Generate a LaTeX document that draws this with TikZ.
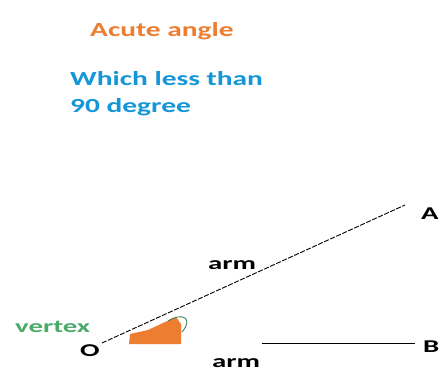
\documentclass[tikz,border=0pt]{standalone}
\usepackage{fontspec}
\setmainfont{Carlito}
\newfontfamily\widefont[FakeStretch=1.47]{Carlito}
\newfontfamily\widerfont[FakeStretch=1.6]{Carlito}
\usetikzlibrary{positioning}
\definecolor{angleorange}{RGB}{237,125,49}
\definecolor{noteblue}{RGB}{20,150,215}
\definecolor{vertexgreen}{RGB}{75,170,105}

\begin{document}
\begin{tikzpicture}[
    x=1pt, y=-1pt,
    txt/.style={font=\widefont\bfseries\fontsize{20}{27}\selectfont, inner sep=0pt, anchor=base west},
    lbl/.style={font=\widerfont\bfseries\fontsize{18}{20}\selectfont, inner sep=0pt, text=black, anchor=base west},
    armline/.style={draw=black, line width=0.9pt},
  ]
    \useasboundingbox (0,0) rectangle (441,372);
    \fill[white] (0,0) rectangle (441,372);

    \node[txt, text=angleorange] (title) at (90,36) {Acute angle};
    \node[txt, text=noteblue, align=left, anchor=north west] (note) at (70,71)
      {Which less than\\90 degree};

    \coordinate (O) at (102,343);
    \coordinate (A) at (405,205);
    \coordinate (armstart) at (262,343);
    \coordinate (B) at (415,343);

    \fill[angleorange] (129,344) -- (130,334) -- (148,330) -- (163,323)
      -- (176,317) -- (181,324) -- (181,344) -- cycle;
    \draw[vertexgreen!70!black, line width=0.8pt]
      (168,321) .. controls (182,312) and (194,318) .. (182,332);

    \draw[armline, dash pattern=on 5pt off 1.6pt] (O) -- (A);
    \draw[armline] (armstart) -- (B);

    \node[lbl] (olabel) at (80,356) {O};
    \node[lbl] (alabel) at (421,219) {A};
    \node[lbl] (blabel) at (423,352) {B};
    \node[lbl] (armtop) at (208,269) {arm};
    \node[lbl] (armbottom) at (212,367) {arm};
    \node[lbl, text=vertexgreen] (vertex) at (15,332) {vertex};
\end{tikzpicture}
\end{document}
